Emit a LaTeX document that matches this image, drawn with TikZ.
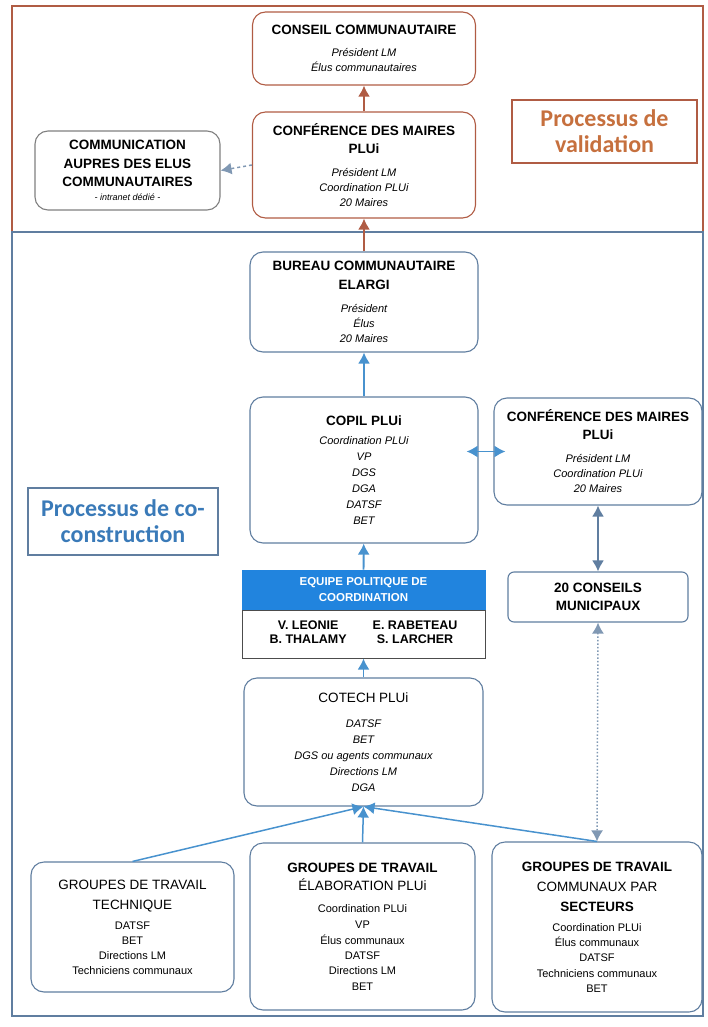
\documentclass[tikz,border=0pt]{standalone}
\usepackage{fontspec}
\setmainfont{Liberation Sans}
\newfontfamily\calibri{Carlito}
\usetikzlibrary{arrows.meta}
\definecolor{valred}{RGB}{176,92,68}
\definecolor{valtxt}{RGB}{198,112,62}
\definecolor{cobrd}{RGB}{96,126,160}
\definecolor{coarr}{RGB}{72,146,206}
\definecolor{cotxt}{RGB}{58,122,184}
\definecolor{eqblue}{RGB}{33,132,222}
\newcommand{\hdb}[1]{{\fontsize{13.5}{17}\selectfont\bfseries\upshape #1}}
\newcommand{\hdr}[1]{{\fontsize{13.5}{17}\selectfont\upshape #1}}

\begin{document}
\begin{tikzpicture}
  [x=1pt,y=-1pt,>={Latex[length=11pt,width=12pt]},
   every node/.style={align=center,inner sep=0pt,font=\fontsize{11}{15}\selectfont\itshape},
   box/.style={draw,rounded corners=13pt,line width=1.1pt},
   valbox/.style={box,draw=valred},
   cobox/.style={box,draw=cobrd},
   grp/.style={cobox,font=\fontsize{11}{15}\selectfont},
   tag/.style={draw,line width=1.1pt,font=\calibri\bfseries\fontsize{24}{26}\selectfont},
   redarr/.style={->,line width=2pt,draw=valred},
   bluarr/.style={->,line width=1.8pt,draw=coarr}]
  \useasboundingbox (0,0) rectangle (707,1027);
  \draw[valred,line width=1.2pt] (12,6) rectangle (703,232);
  \draw[cobrd,line width=1.2pt] (12,232) rectangle (703,1016);

  \node[valbox,minimum width=223,minimum height=73] (cons) at (364,48.5)
    {\hdb{CONSEIL COMMUNAUTAIRE}\\[7pt] Président LM\\ Élus communautaires};
  \node[valbox,minimum width=223,minimum height=106] (conf) at (364,165)
    {\hdb{CONFÉRENCE DES MAIRES}\\[3pt] \hdb{PLUi}\\[8pt] Président LM\\ Coordination PLUi\\ 20 Maires};
  \node[box,draw=gray,minimum width=185,minimum height=79] (comm) at (127.5,170.5)
    {\hdb{COMMUNICATION}\\[4pt] \hdb{AUPRES DES ELUS}\\[3pt] \hdb{COMMUNAUTAIRES}\\[-1pt] {\fontsize{9}{10}\selectfont - intranet dédié -}};
  \node[tag,draw=valred,text=valtxt,minimum width=185,minimum height=63] (valid) at (604.5,131.5)
    {Processus de\\ validation};

  \node[cobox,minimum width=228,minimum height=100] (bur) at (364,302)
    {\hdb{BUREAU COMMUNAUTAIRE}\\[4pt] \hdb{ELARGI}\\[8pt] Président\\ Élus\\ 20 Maires};
  \node[cobox,minimum width=228,minimum height=146] (copil) at (364,470)
    {\hdb{COPIL PLUi}\\[4pt] Coordination PLUi\\[1pt] VP\\[1pt] DGS\\[1pt] DGA\\[1pt] DATSF\\[1pt] BET};
  \node[cobox,minimum width=208,minimum height=107] (confr) at (598,451.5)
    {\hdb{CONFÉRENCE DES MAIRES}\\[3pt] \hdb{PLUi}\\[8pt] Président LM\\ Coordination PLUi\\ 20 Maires};
  \node[tag,draw=cobrd,text=cotxt,minimum width=190,minimum height=67] (coco) at (123,521.5)
    {Processus de co-\\ construction};
  \node[box,rounded corners=6pt,draw=cobrd,minimum width=180,minimum height=50] (cons20) at (598,597)
    {\hdb{20 CONSEILS}\\[3pt] \hdb{MUNICIPAUX}};

  \node[draw=eqblue,fill=eqblue,text=white,line width=1pt,minimum width=243,minimum height=40,
    font=\fontsize{11.5}{16}\selectfont\bfseries] (eqh) at (363.5,590)
    {EQUIPE POLITIQUE DE\\ COORDINATION};
  \node[draw=black!70,line width=1pt,minimum width=243,minimum height=48,
    font=\fontsize{12.5}{13.5}\selectfont\bfseries] (eqb) at (363.5,634)
    {\begin{tabular}{@{}c@{\hspace{26pt}}c@{}}V. LEONIE & E. RABETEAU\\ B. THALAMY & S. LARCHER\end{tabular}};
  \node[cobox,minimum width=239,minimum height=128] (cotech) at (363.5,742)
    {\hdr{COTECH PLUi}\\[10pt] DATSF\\[1pt] BET\\[1pt] DGS ou agents communaux\\[1pt] Directions LM\\[1pt] DGA};

  \node[grp,minimum width=203,minimum height=130] (gtt) at (132.5,927)
    {\hdr{GROUPES DE TRAVAIL}\\[5pt] \hdr{TECHNIQUE}\\[5pt] DATSF\\ BET\\ Directions LM\\ Techniciens communaux};
  \node[grp,minimum width=225,minimum height=167] (gte) at (362.5,926.5)
    {\hdb{GROUPES DE TRAVAIL}\\[3pt] \hdr{ÉLABORATION PLUi}\\[7pt] Coordination PLUi\\[1pt] VP\\[1pt] Élus communaux\\ DATSF\\ Directions LM\\[1pt] BET};
  \node[grp,minimum width=210,minimum height=170] (gtc) at (597,927)
    {\hdb{GROUPES DE TRAVAIL}\\[5pt] \hdr{COMMUNAUX PAR}\\[5pt] \hdb{SECTEURS}\\[5pt] Coordination PLUi\\ Élus communaux\\ DATSF\\[1pt] Techniciens communaux\\ BET};

  \foreach \from/\to in {conf/cons,bur/conf}
    \draw[redarr] (\from) -- (\to);
  \foreach \from/\to in {copil/bur,eqh/copil,cotech/eqb}
    \draw[bluarr] (\from) -- (\to);
  \foreach \from in {gtt,gte,gtc}
    \draw[bluarr,line width=1.5pt] (\from.north) -- (cotech.south);
  \draw[->,dashed,line width=1.5pt,draw=cobrd!80] (conf.west) -- (comm.east);
  \draw[<->,line width=1.8pt,draw=coarr] ([xshift=-12pt]copil.east |- confr.west) -- ([xshift=12pt]confr.west);
  \draw[<->,line width=1.8pt,draw=cobrd] (confr) -- (cons20);
  \draw[<->,dotted,line width=1.5pt,draw=cobrd!80] (cons20.south) -- (gtc.north);
\end{tikzpicture}
\end{document}
